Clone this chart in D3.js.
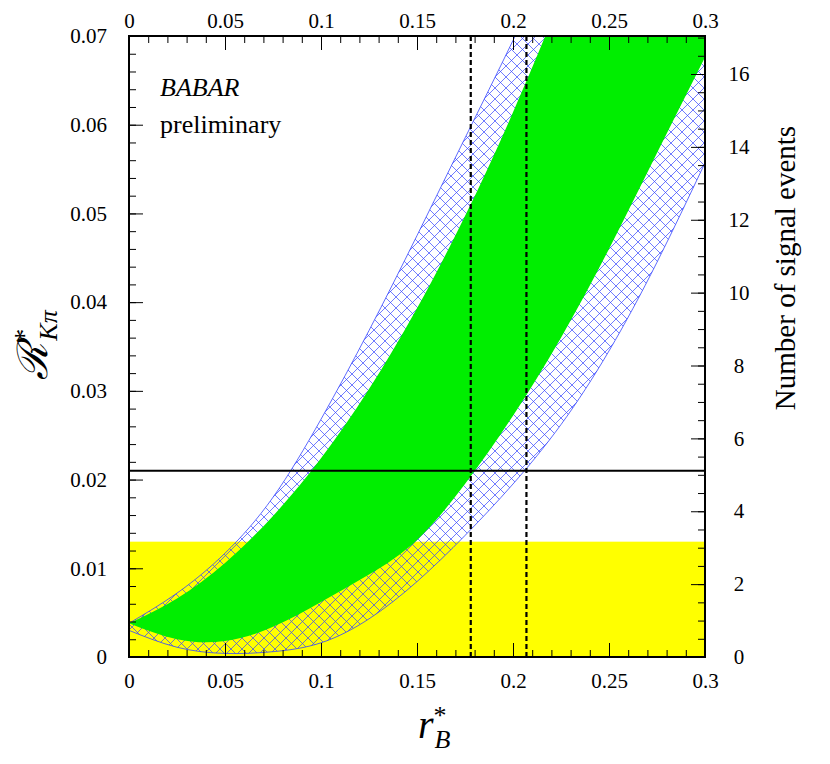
<!DOCTYPE html>
<html><head><meta charset="utf-8">
<script src="https://cdn.jsdelivr.net/npm/d3@7"></script>
<style>body{margin:0;background:#fff}</style>
</head><body><svg id="c" width="830" height="764" font-family="Liberation Serif"></svg>
<script>
const xs = [0,0.025,0.05,0.075,0.1,0.125,0.15,0.175,0.2,0.225,0.25,0.275,0.3];
const greenUpper = [0.0038,0.0066,0.0106,0.0159,0.0224,0.0302,0.0393,0.0497,0.0614,0.0743,null,null,null];
const greenLower = [0.0038,0.0020,0.0018,0.0034,0.0062,0.0093,0.0132,0.0195,0.0272,0.0360,0.0460,0.0568,0.0676];
const hatchUpper = [0.0038,0.0072,0.0117,0.0180,0.0268,0.0368,0.0475,0.0585,0.0695,0.0810,null,null,null];
const hatchLower = [0.0030,0.0011,0.0004,0.0006,0.0016,0.0043,0.0085,0.0137,0.0195,0.0262,0.0345,0.0445,0.0557];
const yellowLevel = 0.013, measured = 0.021, dashedX = [0.178,0.207];
const xTicks = [0,0.05,0.1,0.15,0.2,0.25,0.3];
const yTicks = [0,0.01,0.02,0.03,0.04,0.05,0.06,0.07];
const nTicks = [0,2,4,6,8,10,12,14,16];
const FONT = "Liberation Serif";

const svg = d3.select("#c");
const L=129,R=705,T=36,B=657;
const x = d3.scaleLinear([0,0.3],[L,R]);
const y = d3.scaleLinear([0,0.07],[B,T]);
const yN = d3.scaleLinear([0,16*(B-T)/(B-74)],[B,T]);

const defs = svg.append("defs");
defs.append("clipPath").attr("id","cp").append("rect").attr("x",L).attr("y",T).attr("width",R-L).attr("height",B-T);
const pat = defs.append("pattern").attr("id","hatch").attr("patternUnits","userSpaceOnUse").attr("width",11).attr("height",11);
pat.append("path").attr("d","M0,0L11,11M11,0L0,11").attr("stroke","#3344ff").attr("stroke-width",0.7);

const g = svg.append("g").attr("clip-path","url(#cp)");
g.append("rect").attr("x",L).attr("y",y(yellowLevel)).attr("width",R-L).attr("height",B-y(yellowLevel)).attr("fill","#ffff00");

const lineGen = d3.line().curve(d3.curveNatural);
function pts(arr){ return xs.map((v,i)=>[v,arr[i]]).filter(p=>p[1]!=null).map(p=>[x(p[0]),y(p[1])]); }
function polyPath(up,lo){
  return lineGen(up) + "L"+(R+60)+","+(T-60)+"L"+(R+60)+","+lo[lo.length-1][1]+"L" +
    lineGen(lo.slice().reverse()).slice(1) + "Z";
}
const hu = pts(hatchUpper), hl = pts(hatchLower), gu = pts(greenUpper), gl = pts(greenLower);
g.append("path").attr("d",polyPath(hu,hl)).attr("fill","url(#hatch)");
g.append("path").attr("d",lineGen(hu)).attr("fill","none").attr("stroke","#3344ff").attr("stroke-width",0.8);
g.append("path").attr("d",lineGen(hl)).attr("fill","none").attr("stroke","#3344ff").attr("stroke-width",0.8);
g.append("path").attr("d",polyPath(gu,gl)).attr("fill","#00ee00");

g.append("line").attr("x1",L).attr("x2",R).attr("y1",y(measured)).attr("y2",y(measured)).attr("stroke","#000").attr("stroke-width",2);
dashedX.forEach(d=>g.append("line").attr("x1",x(d)).attr("x2",x(d)).attr("y1",T).attr("y2",B)
  .attr("stroke","#000").attr("stroke-width",2.2).attr("stroke-dasharray","5,3"));

svg.append("rect").attr("x",L).attr("y",T).attr("width",R-L).attr("height",B-T).attr("fill","none").attr("stroke","#000").attr("stroke-width",2);

function axis(gen, tr, ticks, fmt, len, pad){
  const a = svg.append("g").attr("transform",tr).call(gen.tickValues(ticks).tickFormat(fmt).tickSizeInner(len).tickSizeOuter(0).tickPadding(pad));
  a.select(".domain").remove();
  a.attr("font-family",FONT).attr("font-size",21);
  return a;
}
const minorX = d3.range(0,0.3001,0.01), minorY = d3.range(0,0.0701,0.002), minorN = d3.range(0,17.01,0.5);
const f = d=>d===0?"0":String(+d.toFixed(3));
axis(d3.axisBottom(x), `translate(0,${B})`, minorX, ()=>"", -7, 0).selectAll("text").remove();
axis(d3.axisBottom(x), `translate(0,${B})`, xTicks, f, -14, 16);
axis(d3.axisTop(x), `translate(0,${T})`, minorX, ()=>"", -7, 0).selectAll("text").remove();
axis(d3.axisTop(x), `translate(0,${T})`, xTicks, f, -14, 8);
axis(d3.axisLeft(y), `translate(${L},0)`, minorY, ()=>"", -7, 0).selectAll("text").remove();
axis(d3.axisLeft(y), `translate(${L},0)`, yTicks, f, -14, 22);
axis(d3.axisRight(yN), `translate(${R},0)`, minorN, ()=>"", -7, 0).selectAll("text").remove();
axis(d3.axisRight(yN), `translate(${R},0)`, nTicks, d=>d, -14, 34).selectAll("text").attr("text-anchor","middle");
svg.selectAll(".tick line").attr("stroke","#000").attr("stroke-width",1);

svg.append("text").attr("x",160).attr("y",96).attr("font-size",26).attr("font-style","italic").text("BABAR");
svg.append("text").attr("x",160).attr("y",133).attr("font-size",26).text("preliminary");
svg.append("text").attr("transform","translate(418,738)").attr("font-size",40).attr("font-style","italic")
  .html('r<tspan dy="-14" font-size="26" font-style="normal">*</tspan><tspan dx="-12" dy="24" font-size="26">B</tspan>');
svg.append("text").attr("transform","translate(47,345) rotate(-90)").attr("text-anchor","middle").attr("font-size",42)
  .html('<tspan font-style="italic">ℛ</tspan><tspan dy="-14" font-size="28">*</tspan><tspan dx="-12" dy="24" font-size="26" font-style="italic">Kπ</tspan>');
svg.append("text").attr("transform","translate(795,268) rotate(-90)").attr("text-anchor","middle").attr("font-size",29).text("Number of signal events");
</script></body></html>
